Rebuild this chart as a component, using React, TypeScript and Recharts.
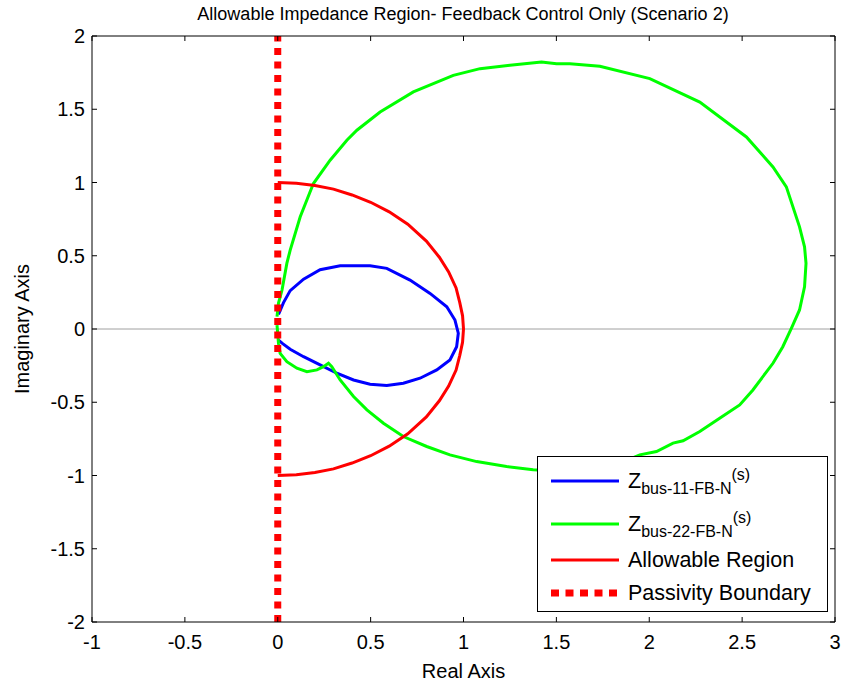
import React from 'react';
import { ComposedChart, Line, XAxis, YAxis, ReferenceLine } from 'recharts';

const FONT = "'Liberation Sans', Arial, sans-serif";

const xTicks = [-1, -0.5, 0, 0.5, 1, 1.5, 2, 2.5, 3];
const yTicks = [-2, -1.5, -1, -0.5, 0, 0.5, 1, 1.5, 2];

// Z_bus-11-FB-N(s)
const bus11 = [
  { x: 0.004, y: 0.1 }, { x: 0.031, y: 0.18 }, { x: 0.067, y: 0.262 }, { x: 0.139, y: 0.34 },
  { x: 0.228, y: 0.405 }, { x: 0.336, y: 0.432 }, { x: 0.497, y: 0.432 }, { x: 0.587, y: 0.414 },
  { x: 0.712, y: 0.334 }, { x: 0.82, y: 0.243 }, { x: 0.91, y: 0.152 }, { x: 0.954, y: 0.061 },
  { x: 0.972, y: -0.029 }, { x: 0.963, y: -0.121 }, { x: 0.927, y: -0.211 }, { x: 0.856, y: -0.279 },
  { x: 0.766, y: -0.336 }, { x: 0.676, y: -0.37 }, { x: 0.587, y: -0.386 }, { x: 0.497, y: -0.377 },
  { x: 0.408, y: -0.348 }, { x: 0.318, y: -0.302 }, { x: 0.228, y: -0.245 }, { x: 0.139, y: -0.189 },
  { x: 0.067, y: -0.138 }, { x: 0.023, y: -0.097 }, { x: 0.004, y: -0.075 },
];

// Z_bus-22-FB-N(s)
const bus22 = [
  { x: -0.004, y: 0.027 }, { x: 0.004, y: -0.097 }, { x: 0.013, y: -0.166 }, { x: 0.049, y: -0.223 },
  { x: 0.103, y: -0.268 }, { x: 0.157, y: -0.291 }, { x: 0.211, y: -0.279 }, { x: 0.246, y: -0.257 },
  { x: 0.273, y: -0.234 }, { x: 0.291, y: -0.257 }, { x: 0.336, y: -0.348 }, { x: 0.408, y: -0.461 },
  { x: 0.48, y: -0.552 }, { x: 0.569, y: -0.643 }, { x: 0.676, y: -0.734 }, { x: 0.802, y: -0.802 },
  { x: 0.927, y: -0.859 }, { x: 1.071, y: -0.905 }, { x: 1.232, y: -0.939 }, { x: 1.375, y: -0.961 },
  { x: 1.573, y: -0.972 }, { x: 1.788, y: -0.945 }, { x: 1.949, y: -0.859 }, { x: 2.039, y: -0.836 },
  { x: 2.128, y: -0.779 }, { x: 2.182, y: -0.763 }, { x: 2.272, y: -0.7 }, { x: 2.379, y: -0.609 },
  { x: 2.487, y: -0.518 }, { x: 2.558, y: -0.416 }, { x: 2.666, y: -0.234 }, { x: 2.719, y: -0.121 },
  { x: 2.765, y: 0.005 }, { x: 2.809, y: 0.13 }, { x: 2.836, y: 0.288 }, { x: 2.844, y: 0.448 },
  { x: 2.836, y: 0.561 }, { x: 2.809, y: 0.697 }, { x: 2.738, y: 0.97 }, { x: 2.666, y: 1.106 },
  { x: 2.523, y: 1.311 }, { x: 2.272, y: 1.549 }, { x: 2.003, y: 1.709 }, { x: 1.734, y: 1.793 },
  { x: 1.573, y: 1.811 }, { x: 1.501, y: 1.811 }, { x: 1.42, y: 1.822 }, { x: 1.25, y: 1.8 },
  { x: 1.089, y: 1.777 }, { x: 0.945, y: 1.731 }, { x: 0.73, y: 1.618 }, { x: 0.551, y: 1.481 },
  { x: 0.426, y: 1.357 }, { x: 0.372, y: 1.288 }, { x: 0.282, y: 1.152 }, { x: 0.192, y: 0.993 },
  { x: 0.121, y: 0.766 }, { x: 0.067, y: 0.539 }, { x: 0.049, y: 0.448 }, { x: 0.023, y: 0.266 },
  { x: 0.004, y: 0.177 }, { x: -0.004, y: 0.084 },
];

// allowable region (right half of the unit circle)
const allowable = [
  { x: 0, y: 1 }, { x: 0.1, y: 0.995 }, { x: 0.2, y: 0.98 }, { x: 0.3, y: 0.955 },
  { x: 0.4, y: 0.915 }, { x: 0.5, y: 0.865 }, { x: 0.6, y: 0.8 }, { x: 0.7, y: 0.715 },
  { x: 0.8, y: 0.6 }, { x: 0.87, y: 0.49 }, { x: 0.92, y: 0.39 }, { x: 0.96, y: 0.28 },
  { x: 0.98, y: 0.18 }, { x: 0.995, y: 0.09 }, { x: 1, y: 0 }, { x: 0.995, y: -0.09 },
  { x: 0.98, y: -0.18 }, { x: 0.96, y: -0.28 }, { x: 0.92, y: -0.39 }, { x: 0.87, y: -0.49 },
  { x: 0.8, y: -0.6 }, { x: 0.7, y: -0.715 }, { x: 0.6, y: -0.8 }, { x: 0.5, y: -0.865 },
  { x: 0.4, y: -0.915 }, { x: 0.3, y: -0.955 }, { x: 0.2, y: -0.98 }, { x: 0.1, y: -0.995 },
  { x: 0, y: -1 },
];

const passivity = [{ x: 0, y: -2 }, { x: 0, y: 2 }];

const TICK = 5;

// matlab style: tick marks point into the plot box
const BottomTick = ({ x, y, payload }: any) => (
  <g>
    <line x1={x} x2={x} y1={y - 13} y2={y - 13 - TICK} stroke="#000" />
    <text x={x} y={y} dy="0.71em" textAnchor="middle" fontSize={20} fontFamily={FONT} fill="#000">
      {String(payload.value)}
    </text>
  </g>
);

const LeftTick = ({ x, y, payload }: any) => (
  <g>
    <line x1={x + 7} x2={x + 7 + TICK} y1={y} y2={y} stroke="#000" />
    <text x={x} y={y} dy="0.355em" textAnchor="end" fontSize={20} fontFamily={FONT} fill="#000">
      {String(payload.value)}
    </text>
  </g>
);

const TopTick = ({ x, y }: any) => <line x1={x} x2={x} y1={y} y2={y + TICK} stroke="#000" />;
const RightTick = ({ x, y }: any) => <line x1={x - TICK} x2={x} y1={y} y2={y} stroke="#000" />;

const YLabel = (props: any) => {
  const vb = props.viewBox || { x: 0, y: 0, width: 92, height: 587 };
  const cx = vb.x + 22;
  const cy = vb.y + vb.height / 2;
  return (
    <text x={cx} y={cy} transform={`rotate(-90 ${cx} ${cy})`} textAnchor="middle"
      dominantBaseline="central" fontSize={20} fontFamily={FONT} fill="#000">
      Imaginary Axis
    </text>
  );
};

const LegendRow = ({ top, children, dashed, color }: any) => (
  <div style={{ position: 'absolute', left: 12, top: top - 15, height: 30, display: 'flex', alignItems: 'center' }}>
    <svg width={70} height={10} style={{ marginRight: 8 }}>
      <line x1={1} y1={5} x2={69} y2={5} stroke={color} strokeWidth={dashed ? 7 : 3}
        strokeDasharray={dashed ? '8 6.5' : undefined} />
    </svg>
    <span style={{ fontSize: 21.5, whiteSpace: 'nowrap' }}>{children}</span>
  </div>
);

const Zname = ({ idx }: { idx: string }) => (
  <span>
    Z<span style={{ fontSize: 16, position: 'relative', top: 6 }}>{`bus-${idx}-FB-N`}</span>
    <span style={{ fontSize: 16, position: 'relative', top: -8 }}>(s)</span>
  </span>
);

export default function App() {
  return (
    <div style={{ position: 'absolute', left: 0, top: 0, width: 843, height: 687, background: '#fff', fontFamily: FONT, color: '#000' }}>
      <div style={{ position: 'absolute', left: 91, width: 744, top: 3, textAlign: 'center', fontSize: 18, lineHeight: '22px' }}>
        Allowable Impedance Region- Feedback Control Only (Scenario 2)
      </div>
      <ComposedChart width={843} height={687} margin={{ top: 0, right: 0, bottom: 0, left: 0 }}>
        <XAxis xAxisId="b" dataKey="x" type="number" domain={[-1, 3]} ticks={xTicks} allowDataOverflow
          height={65} tickSize={0} tickMargin={13} stroke="#000" tickLine={false} tick={<BottomTick />}
          label={{ value: 'Real Axis', position: 'insideBottom', offset: 9, fill: '#000', fontSize: 20, fontFamily: FONT }} />
        <XAxis xAxisId="t" orientation="top" dataKey="x" type="number" domain={[-1, 3]} ticks={xTicks} allowDataOverflow
          height={36} tickSize={0} tickMargin={0} tickLine={false} tick={<TopTick />} stroke="#000" />
        <YAxis yAxisId="l" dataKey="y" type="number" domain={[-2, 2]} ticks={yTicks} allowDataOverflow
          width={92} tickSize={0} tickMargin={7} stroke="#000" tickLine={false} tick={<LeftTick />}
          label={<YLabel />} />
        <YAxis yAxisId="r" orientation="right" dataKey="y" type="number" domain={[-2, 2]} ticks={yTicks} allowDataOverflow
          width={8} tickSize={0} tickMargin={0} tickLine={false} tick={<RightTick />} stroke="#000" />
        <ReferenceLine xAxisId="b" yAxisId="l" y={0} stroke="#a0a0a0" strokeWidth={1} />
        <Line xAxisId="b" yAxisId="l" data={bus11} dataKey="y" type="linear" stroke="#0000ff" strokeWidth={3}
          dot={false} activeDot={false} isAnimationActive={false} />
        <Line xAxisId="b" yAxisId="l" data={bus22} dataKey="y" type="linear" stroke="#00ff00" strokeWidth={3}
          dot={false} activeDot={false} isAnimationActive={false} />
        <Line xAxisId="b" yAxisId="l" data={allowable} dataKey="y" type="linear" stroke="#ff0000" strokeWidth={3}
          dot={false} activeDot={false} isAnimationActive={false} />
        <Line xAxisId="b" yAxisId="l" data={passivity} dataKey="y" type="linear" stroke="#ff0000" strokeWidth={7}
          strokeDasharray="7 6.5" dot={false} activeDot={false} isAnimationActive={false} />
      </ComposedChart>
      <div style={{ position: 'absolute', left: 537, top: 456, width: 291, height: 156, border: '1px solid #000',
        boxSizing: 'border-box', background: '#fff' }}>
        <LegendRow top={24} color="#0000ff"><Zname idx="11" /></LegendRow>
        <LegendRow top={67} color="#00ff00"><Zname idx="22" /></LegendRow>
        <LegendRow top={103} color="#ff0000">Allowable Region</LegendRow>
        <LegendRow top={136} color="#ff0000" dashed>Passivity Boundary</LegendRow>
      </div>
    </div>
  );
}
